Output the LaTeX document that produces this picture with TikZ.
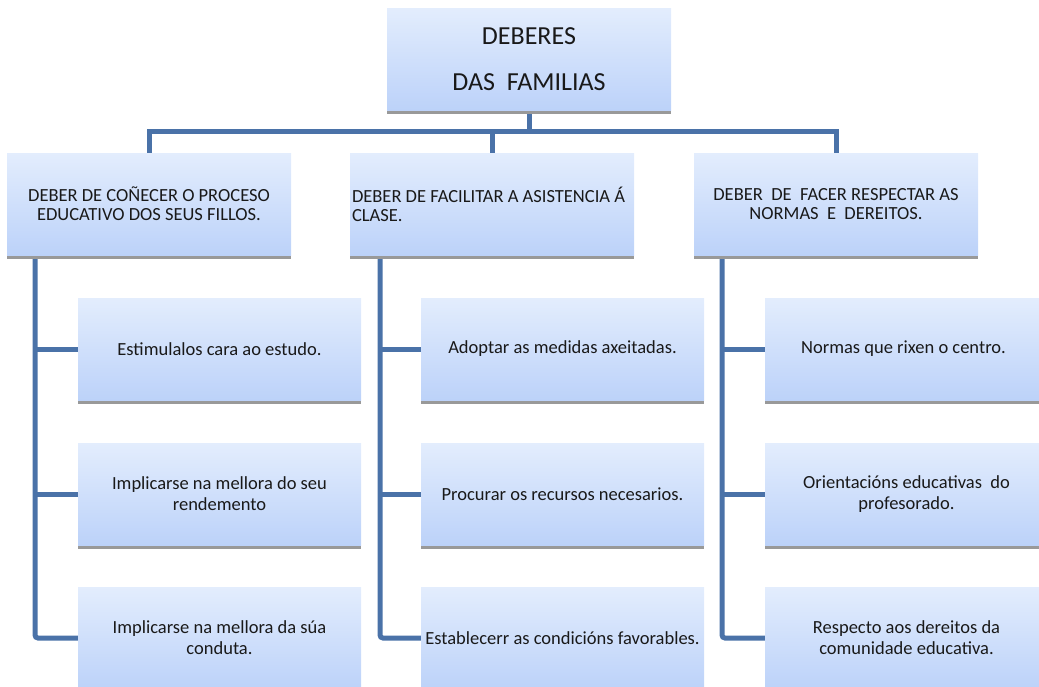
\documentclass[tikz,border=0pt]{standalone}
\usepackage{fontspec}
\setmainfont{Carlito}
\usetikzlibrary{shadows,backgrounds}
\definecolor{boxtop}{HTML}{E3EDFD}
\definecolor{boxbot}{HTML}{BCD2F9}
\definecolor{lineblue}{HTML}{4A72A8}
\definecolor{shadowgray}{HTML}{999999}
\tikzset{
  basebox/.style={rectangle, draw=none, top color=boxtop, bottom color=boxbot,
    general shadow={fill=shadowgray, shadow yshift=-4pt},
    align=center, text=black!90, inner sep=1pt},
  topbox/.style={basebox, minimum width=284pt, minimum height=102pt, font=\fontsize{26}{46}\selectfont},
  midbox/.style={basebox, minimum width=284pt, minimum height=102pt, font=\fontsize{18.5}{19}\selectfont},
  leafbox/.style={basebox, minimum width=283pt, minimum height=102pt, font=\fontsize{18.5}{21}\selectfont},
  conn/.style={draw=lineblue, line width=5pt, rounded corners=3pt}
}
\begin{document}
\begin{tikzpicture}[x=1pt,y=-1pt]
\useasboundingbox (0,0) rectangle (1039,686);
\node[topbox] (top) at (529,59) {DEBERES\\DAS\ \ FAMILIAS};
\node[midbox] (m1) at (149,204) {DEBER DE COÑECER O PROCESO\\EDUCATIVO DOS SEUS FILLOS.};
\node[midbox, align=flush left, text width=280pt] (m2) at (492,204) {\mbox{DEBER DE FACILITAR A ASISTENCIA Á}\\CLASE.};
\node[midbox] (m3) at (836,204) {DEBER\ \ DE\ \ FACER RESPECTAR AS\\NORMAS\ \ E\ \ DEREITOS.};
\node[leafbox] (a1) at (219.5,349) {Estimulalos cara ao estudo.};
\node[leafbox] (a2) at (219.5,494) {Implicarse na mellora do seu\\rendemento};
\node[leafbox] (a3) at (219.5,638) {Implicarse na mellora da súa\\conduta.};
\node[leafbox] (b1) at (562.5,349) {Adoptar as medidas axeitadas.};
\node[leafbox] (b2) at (562.5,494) {Procurar os recursos necesarios.};
\node[leafbox] (b3) at (562.5,638) {Establecerr as condicións favorables.};
\node[leafbox] (c1) at (906.5,349) {\hspace*{-3pt}Normas que rixen o centro.\hspace*{3pt}};
\node[leafbox] (c2) at (906.5,494) {Orientacións educativas\ \ do\\profesorado.};
\node[leafbox] (c3) at (906.5,638) {Respecto aos dereitos da\\comunidade educativa.};
\coordinate (hub) at (529,131);
\coordinate (v1) at (35,0);
\coordinate (v2) at (380,0);
\coordinate (v3) at (722,0);
\begin{scope}[on background layer]
\draw[conn, rounded corners=0pt] (top.south) -- (hub);
\draw[conn, rounded corners=0pt] (hub) -| (m1.north);
\draw[conn, rounded corners=0pt] (hub) -| (m2.north);
\draw[conn, rounded corners=0pt] (hub) -| (m3.north);
\draw[conn] (v1 |- m1.south) |- (a3.west);
\draw[conn] (v1 |- a1.west) -- (a1.west);
\draw[conn] (v1 |- a2.west) -- (a2.west);
\draw[conn] (v2 |- m2.south) |- (b3.west);
\draw[conn] (v2 |- b1.west) -- (b1.west);
\draw[conn] (v2 |- b2.west) -- (b2.west);
\draw[conn] (v3 |- m3.south) |- (c3.west);
\draw[conn] (v3 |- c1.west) -- (c1.west);
\draw[conn] (v3 |- c2.west) -- (c2.west);
\end{scope}
\end{tikzpicture}
\end{document}
